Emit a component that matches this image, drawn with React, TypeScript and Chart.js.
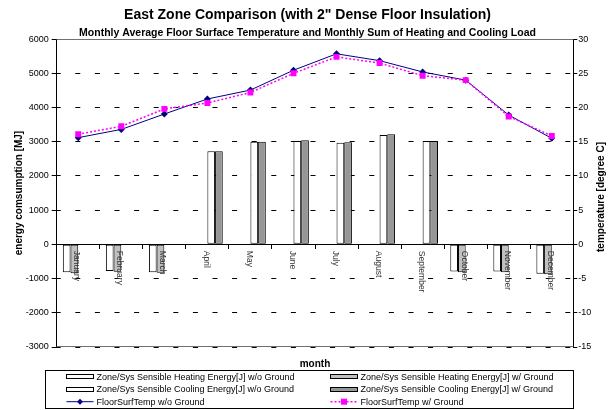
import React, { useEffect, useRef } from "react";
import { Chart, registerables } from "chart.js";

Chart.register(...registerables);

const titleText = 'East Zone Comparison (with 2" Dense Floor Insulation)';
const subtitleText = "Monthly Average Floor Surface Temperature and Monthly Sum of Heating and Cooling Load";
const leftAxisTitle = "energy comsumption [MJ]";
const rightAxisTitle = "temperature [degree C]";
const xAxisTitle = "month";

const months = [
  "January", "February", "March", "April", "May", "June",
  "July", "August", "September", "October", "November", "December",
];

const heatingWo = [-816, -778, -816, -20, 0, 0, 0, 0, 0, -795, -795, -857];
const heatingW = [-845, -797, -826, -20, 0, 0, 0, 0, 0, -815, -815, -870];
const coolingWo = [0, 0, 0, 2721, 3001, 3022, 2973, 3197, 3022, 0, 0, 0];
const coolingW = [0, 0, 0, 2721, 3001, 3042, 2982, 3216, 3022, 0, 0, 0];
const tempWo = [15.6, 16.8, 19.05, 21.25, 22.55, 25.45, 27.85, 26.85, 25.2, 24.0, 18.9, 15.5];
const tempW = [16.1, 17.25, 19.8, 20.65, 22.2, 25.0, 27.4, 26.5, 24.65, 24.0, 18.7, 15.85];

const energyRange = [-3000, 6000, 1000];
const tempRange = [-15, 30, 5];

const seriesLabels = [
  "Zone/Sys Sensible Heating Energy[J] w/o Ground",
  "Zone/Sys Sensible Heating Energy[J] w/ Ground",
  "Zone/Sys Sensible Cooling Energy[J] w/o Ground",
  "Zone/Sys Sensible Cooling Energy[J] w/ Ground",
  "FloorSurfTemp w/o Ground",
  "FloorSurfTemp w/ Ground",
];

const FONT = "'Liberation Sans', Arial, sans-serif";

const overlayPlugin = {
  id: "overlay",
  beforeDatasetsDraw(chart: any) {
    const { ctx, chartArea: a } = chart;
    ctx.save();
    ctx.strokeStyle = "#707070";
    ctx.lineWidth = 1;
    ctx.beginPath();
    const t = Math.round(a.top) + 0.5;
    const b = Math.round(a.bottom) - 0.5;
    ctx.moveTo(a.left, t);
    ctx.lineTo(a.right, t);
    ctx.moveTo(a.left, b);
    ctx.lineTo(a.right, b);
    ctx.stroke();
    ctx.restore();
  },
  afterDatasetsDraw(chart: any) {
    const { ctx } = chart;
    const xs = chart.scales.x;
    const ys = chart.scales.y;
    const y0 = ys.getPixelForValue(0);
    ctx.save();
    ctx.font = `8.5px ${FONT}`;
    ctx.fillStyle = "#333";
    ctx.textAlign = "left";
    ctx.textBaseline = "middle";
    months.forEach((m, i) => {
      const x = xs.getPixelForValue(i) - 1.5;
      ctx.save();
      ctx.translate(x, y0 + 6.5);
      ctx.rotate(Math.PI / 2);
      ctx.fillText(m, 0, 0);
      ctx.restore();
    });
    ctx.restore();
  },
  afterDraw(chart: any) {
    const { ctx, chartArea: a } = chart;
    ctx.save();
    // x axis title
    ctx.font = `bold 10px ${FONT}`;
    ctx.fillStyle = "#000";
    ctx.textAlign = "center";
    ctx.textBaseline = "middle";
    ctx.fillText(xAxisTitle, (a.left + a.right) / 2, 364);

    // right axis title, reading bottom to top
    ctx.save();
    ctx.translate(601.7, 197);
    ctx.rotate(-Math.PI / 2);
    ctx.fillText(rightAxisTitle, 0, 0);
    ctx.restore();

    // legend
    const boxL = 45.5, boxR = 573.5, boxT = 370.5, boxB = 408.5;
    ctx.strokeStyle = "#000";
    ctx.lineWidth = 1;
    ctx.strokeRect(boxL, boxT, boxR - boxL, boxB - boxT);
    const rows = [376.7, 389.3, 401.7];
    const cols = [66.5, 330.5];
    ctx.font = `9px ${FONT}`;
    ctx.textAlign = "left";
    chart.data.datasets.forEach((ds: any, i: number) => {
      const row = Math.floor(i / 2);
      const col = i % 2;
      const sx = cols[col];
      const y = rows[row];
      const sw = 27;
      if (ds.type === "bar") {
        ctx.fillStyle = ds.backgroundColor;
        ctx.fillRect(sx, Math.round(y - 2.5) + 0.5, sw, 4);
        ctx.strokeStyle = ds.borderColor;
        ctx.lineWidth = 1;
        ctx.strokeRect(sx, Math.round(y - 2.5) + 0.5, sw, 4);
      } else {
        ctx.save();
        ctx.strokeStyle = ds.borderColor;
        ctx.lineWidth = ds.borderWidth;
        ctx.setLineDash(ds.borderDash || []);
        ctx.beginPath();
        ctx.moveTo(sx, y);
        ctx.lineTo(sx + sw, y);
        ctx.stroke();
        ctx.setLineDash([]);
        ctx.fillStyle = ds.backgroundColor;
        const cx = sx + sw / 2;
        if (ds.pointStyle === "rect") {
          ctx.fillRect(cx - 3, y - 3, 6, 6);
        } else {
          ctx.beginPath();
          ctx.moveTo(cx - 3, y);
          ctx.lineTo(cx, y - 3);
          ctx.lineTo(cx + 3, y);
          ctx.lineTo(cx, y + 3);
          ctx.closePath();
          ctx.fill();
        }
        ctx.restore();
      }
      ctx.fillStyle = "#000";
      ctx.fillText(ds.label, sx + sw + 3, y + 0.5);
    });
    ctx.restore();
  },
};

export default function App() {
  const ref = useRef<HTMLCanvasElement>(null);
  useEffect(() => {
    document.body.style.margin = "0";
    Chart.defaults.font.family = FONT;
    const barBase = { type: "bar", borderColor: "#000", borderWidth: 1, borderSkipped: false, yAxisID: "y", order: 2 };
    const chart = new Chart(ref.current as HTMLCanvasElement, {
      type: "bar",
      data: {
        labels: months,
        datasets: [
          { ...barBase, label: seriesLabels[0], data: heatingWo, backgroundColor: "#ffffff" },
          { ...barBase, label: seriesLabels[1], data: heatingW, backgroundColor: "#c0c0c0" },
          { ...barBase, label: seriesLabels[2], data: coolingWo, backgroundColor: "#ffffff" },
          { ...barBase, label: seriesLabels[3], data: coolingW, backgroundColor: "#969696" },
          {
            type: "line", label: seriesLabels[4], data: tempWo, yAxisID: "y2", order: 1,
            borderColor: "#000080", backgroundColor: "#000080", borderWidth: 1,
            pointStyle: "rectRot", pointRadius: 3.5, pointBorderWidth: 0, fill: false,
          },
          {
            type: "line", label: seriesLabels[5], data: tempW, yAxisID: "y2", order: 0,
            borderColor: "#ff00ff", backgroundColor: "#ff00ff", borderWidth: 1.5, borderDash: [2, 2],
            pointStyle: "rect", pointRadius: 4.2, pointBorderWidth: 0, fill: false,
          },
        ] as any,
      },
      options: {
        animation: false,
        responsive: true,
        maintainAspectRatio: false,
        layout: { padding: { left: 0, right: 0, top: 0, bottom: 63 } },
        datasets: { bar: { barPercentage: 1, categoryPercentage: 0.715 } },
        plugins: {
          legend: { display: false },
          tooltip: { enabled: false },
          title: {
            display: true, text: titleText, color: "#000",
            font: { size: 14, weight: "bold" }, padding: { top: 6.5, bottom: 0 },
          },
          subtitle: {
            display: true, text: subtitleText, color: "#000",
            font: { size: 10.5, weight: "bold" }, padding: { top: 3.2, bottom: 0 },
          },
        },
        scales: {
          x: {
            type: "category",
            position: { y: 0 } as any,
            offset: true,
            grid: { drawOnChartArea: false, drawTicks: true, tickLength: 4, tickColor: "#000", offset: true, color: "#000" },
            ticks: { display: false },
            border: { color: "#000", width: 1 },
          },
          y: {
            position: "left",
            min: energyRange[0],
            max: energyRange[1],
            ticks: { stepSize: energyRange[2], callback: (v: any) => String(v), font: { size: 9 }, color: "#000", padding: 3 },
            grid: { color: "#000", tickColor: "#000", tickLength: 5, lineWidth: 1 },
            border: { color: "#000", width: 1, dash: [5, 14.6], dashOffset: 1.3 },
            title: { display: true, text: leftAxisTitle, color: "#000", font: { size: 10, weight: "bold" }, padding: { top: 13.5, bottom: 0 } },
            afterFit: (s: any) => { s.width = 56.7; },
          },
          y2: {
            position: "right",
            min: tempRange[0],
            max: tempRange[1],
            ticks: { stepSize: tempRange[2], callback: (v: any) => String(v), font: { size: 9 }, color: "#000", padding: 1 },
            grid: { drawOnChartArea: false, tickColor: "#000", tickLength: 4 },
            border: { color: "#000", width: 1 },
            title: { display: false },
            afterFit: (s: any) => { s.width = 41.7; },
          },
        },
      } as any,
      plugins: [overlayPlugin],
    });
    return () => chart.destroy();
  }, []);
  return (
    <div style={{ width: 615, height: 410, position: "relative" }}>
      <canvas ref={ref} />
    </div>
  );
}
